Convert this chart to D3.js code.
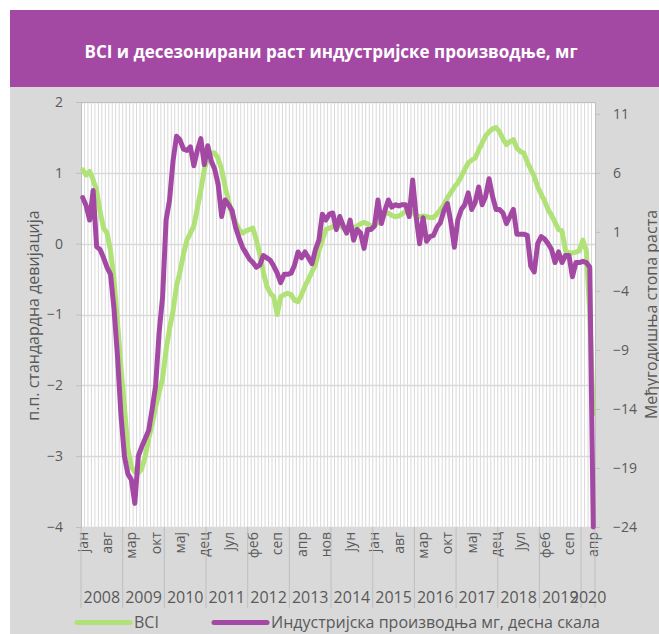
<!DOCTYPE html>
<html>
<head>
<meta charset="utf-8">
<script src="https://cdn.jsdelivr.net/npm/d3@7"></script>
<style>
	body { margin: 0; background: #fff; }
	svg text { font-family: "Open Sans", sans-serif; }
</style>
</head>
<body>
<div id="chart"></div>
<script>
// Data

var years = ['2008', '2009', '2010', '2011', '2012', '2013', '2014', '2015', '2016', '2017', '2018', '2019', '2020'];
var monthNames = ['јан', 'феб', 'мар', 'апр', 'мај', 'јун', 'јул', 'авг', 'сеп', 'окт', 'нов', 'дец'];
var leftTicks = [-4, -3, -2, -1, 0, 1, 2];
var rightTicks = [-24, -19, -14, -9, -4, 1, 6, 11];

// BCI, monthly from jan 2008 (left axis)
var bci = [
	1.04, 0.97, 1.02, 0.9, 0.75, 0.45, 0.22, 0.15, -0.1, -0.5, -1.1, -1.75,
	-2.3, -2.9, -3.15, -3.22, -3.24, -3.18, -3.0, -2.75, -2.55, -2.3, -2.1, -1.9,
	-1.5, -1.2, -0.95, -0.6, -0.4, -0.15, 0.05, 0.15, 0.25, 0.5, 0.75, 1.05,
	1.2, 1.28, 1.28, 1.2, 1.05, 0.8, 0.6, 0.4, 0.3, 0.2, 0.15, 0.18,
	0.2, 0.22, 0.05, -0.15, -0.4, -0.6, -0.7, -0.75, -1.0, -0.75, -0.72, -0.7,
	-0.72, -0.8, -0.82, -0.72, -0.6, -0.5, -0.4, -0.3, -0.1, 0.05, 0.2, 0.22,
	0.24, 0.25, 0.25, 0.22, 0.2, 0.2, 0.22, 0.25, 0.28, 0.3, 0.28, 0.25,
	0.25, 0.3, 0.38, 0.43, 0.43, 0.4, 0.38, 0.39, 0.42, 0.46, 0.48, 0.44,
	0.4, 0.38, 0.39, 0.38, 0.37, 0.37, 0.42, 0.48, 0.55, 0.65, 0.72, 0.8,
	0.86, 0.95, 1.05, 1.14, 1.18, 1.21, 1.32, 1.42, 1.52, 1.58, 1.62, 1.64,
	1.58, 1.48, 1.4, 1.44, 1.47, 1.35, 1.3, 1.28, 1.15, 1.05, 0.95, 0.8,
	0.7, 0.6, 0.48, 0.4, 0.3, 0.2, 0.18, -0.1, -0.13, -0.13, -0.12, -0.1,
	0.05, -0.1, -1.0, -2.4
];

// Industrial production yoy, monthly from jan 2008 (right axis)
var ip = [
	3.9, 3.2, 2.0, 4.5, -0.25, -0.5, -1.2, -2.0, -2.6, -5.5, -9.5, -14.5,
	-18.0, -19.5, -20.0, -22.0, -18.0, -17.2, -16.5, -15.8, -14.0, -12.0, -7.5, -4.5,
	2.0, 3.7, 7.0, 9.1, 8.8, 8.0, 7.9, 8.2, 6.6, 7.9, 8.9, 6.7,
	8.3, 7.0, 6.3, 5.0, 2.3, 3.7, 3.3, 2.8, 1.4, 0.5, -0.3, -0.8,
	-1.3, -1.6, -2.0, -1.8, -1.0, -1.2, -1.4, -1.9, -2.5, -3.3, -2.6, -2.6,
	-2.5, -1.8, -0.7, -1.2, -0.7, -1.2, -1.7, -0.5, 0.3, 2.5, 2.0, 2.5,
	2.6, 1.2, 2.3, 1.5, 0.9, 2.0, 0.3, 1.2, 0.9, -0.4, 1.2, 1.2,
	1.5, 3.7, 1.7, 2.8, 3.7, 3.1, 3.3, 3.2, 3.3, 3.3, 2.3, 5.4,
	2.3, 0.0, 2.2, 0.2, 0.6, 0.7, 1.4, 1.8, 2.8, 3.4, 1.8, -0.3,
	2.0, 2.9, 3.3, 4.3, 2.9, 3.5, 4.8, 3.3, 4.0, 5.5, 4.0, 2.9,
	2.9, 2.6, 1.7, 2.3, 2.9, 0.8, 0.8, 0.8, 0.7, -1.9, -2.4, 0.0,
	0.6, 0.4, 0.0, -0.5, -1.6, -0.7, -1.6, -1.0, -1.0, -2.8, -1.6, -1.6,
	-1.5, -1.6, -2.0, -24.0
];

var seriesNames = ['BCI', 'Индустријска производња мг, десна скала'];
var title = 'BCI и десезонирани раст индустријске производње, мг';

// Config

var width = 659, height = 634;
var plot = { left: 81, right: 595, top: 102, bottom: 527 };
var green = '#b0e277';
var purple = '#a349a4';
var textGray = '#595959';
var lineGray = '#bfbfbf';

// Setup

var svg = d3.select('#chart').append('svg')
	.attr('width', width)
	.attr('height', height);

svg.append('rect')
	.attr('x', 10).attr('y', 87)
	.attr('width', width - 10).attr('height', height - 87)
	.attr('fill', '#d9d9d9');

svg.append('rect')
	.attr('x', 10).attr('y', 10)
	.attr('width', width - 10).attr('height', 77)
	.attr('fill', purple);

svg.append('text')
	.attr('x', 331).attr('y', 58)
	.attr('text-anchor', 'middle')
	.attr('fill', '#fff')
	.style('font-size', '17px')
	.style('font-weight', 'bold')
	.text(title);

var months = d3.range(bci.length);

var x = d3.scaleBand()
	.domain(months)
	.range([plot.left, plot.right]);
var yL = d3.scaleLinear().domain([-4, 2]).range([plot.bottom, plot.top]);
var yR = d3.scaleLinear().domain([-24, 12]).range([plot.bottom, plot.top]);
var cx = i => x(i) + x.bandwidth() / 2;

svg.append('rect')
	.attr('x', plot.left).attr('y', plot.top)
	.attr('width', plot.right - plot.left).attr('height', plot.bottom - plot.top)
	.attr('fill', '#fff');

// month gridlines
svg.append('g').selectAll('line')
	.data(months.slice(1))
	.enter().append('line')
		.attr('x1', d => x(d)).attr('x2', d => x(d))
		.attr('y1', plot.top).attr('y2', plot.bottom)
		.attr('stroke', '#d9d9d9')
		.attr('stroke-width', 1);

// horizontal gridlines
svg.append('g').selectAll('line')
	.data(leftTicks)
	.enter().append('line')
		.attr('x1', plot.left).attr('x2', plot.right)
		.attr('y1', d => Math.round(yL(d)) + 0.5).attr('y2', d => Math.round(yL(d)) + 0.5)
		.attr('stroke', '#d9d9d9')
		.attr('stroke-width', 1.5);

// Axes

function styleAxis(g) {
	g.select('.domain').attr('stroke', lineGray);
	g.selectAll('.tick line').attr('stroke', lineGray);
	g.selectAll('.tick text')
		.attr('fill', textGray)
		.style('font-size', '14px')
		.style('font-family', '"Open Sans", sans-serif');
}

svg.append('g')
	.attr('transform', `translate(${plot.left},0)`)
	.call(d3.axisLeft(yL).tickValues(leftTicks).tickFormat(d3.format('d')).tickSize(5).tickPadding(13).tickSizeOuter(0))
	.call(styleAxis);

svg.append('g')
	.attr('transform', `translate(${plot.right},0)`)
	.call(d3.axisRight(yR).tickValues(rightTicks).tickFormat(d3.format('d')).tickSize(5).tickPadding(13).tickSizeOuter(0))
	.call(styleAxis);

svg.append('line')
	.attr('x1', plot.left).attr('x2', plot.right)
	.attr('y1', plot.top + 0.5).attr('y2', plot.top + 0.5)
	.attr('stroke', lineGray);

// axis titles
svg.append('text')
	.attr('transform', `translate(39,${(plot.top + plot.bottom) / 2 + 1}) rotate(-90)`)
	.attr('text-anchor', 'middle')
	.attr('fill', textGray)
	.style('font-size', '16px')
	.text('п.п. стандардна девијација');

svg.append('text')
	.attr('transform', `translate(657,${(plot.top + plot.bottom) / 2}) rotate(-90)`)
	.attr('text-anchor', 'middle')
	.attr('fill', textGray)
	.style('font-size', '16px')
	.text('Међугодишња стопа раста');

// Category axis: months every 7, years grouped

var labelled = months.filter(i => i % 7 === 0);
svg.append('g').selectAll('text')
	.data(labelled)
	.enter().append('text')
		.attr('transform', d => `translate(${cx(d) + 5},${plot.bottom + 5}) rotate(-90)`)
		.attr('text-anchor', 'end')
		.attr('fill', textGray)
		.style('font-size', '14px')
		.text(d => monthNames[d % 12]);

var yearStarts = years.map((y, k) => k * 12);
svg.append('g').selectAll('line')
	.data(yearStarts.concat([bci.length]))
	.enter().append('line')
		.attr('x1', d => d < bci.length ? x(d) : plot.right)
		.attr('x2', d => d < bci.length ? x(d) : plot.right)
		.attr('y1', plot.bottom).attr('y2', 608)
		.attr('stroke', lineGray);

svg.append('g').selectAll('text')
	.data(years)
	.enter().append('text')
		.attr('x', (y, k) => {
			let a = x(k * 12);
			let b = Math.min(k * 12 + 12, bci.length);
			let end = b < bci.length ? x(b) : plot.right;
			return (a + end) / 2;
		})
		.attr('y', 603)
		.attr('text-anchor', 'middle')
		.attr('fill', textGray)
		.style('font-size', '16px')
		.text(d => d);

// Lines

var lineL = d3.line().x((d, i) => cx(i)).y(d => yL(d));
var lineR = d3.line().x((d, i) => cx(i)).y(d => yR(d));

svg.append('path')
	.datum(bci)
	.attr('d', lineL)
	.attr('fill', 'none')
	.attr('stroke', green)
	.attr('stroke-width', 5)
	.attr('stroke-linejoin', 'round')
	.attr('stroke-linecap', 'round');

svg.append('path')
	.datum(ip)
	.attr('d', lineR)
	.attr('fill', 'none')
	.attr('stroke', purple)
	.attr('stroke-width', 5)
	.attr('stroke-linejoin', 'round')
	.attr('stroke-linecap', 'round');

// Legend

var legend = svg.append('g');
var legendItems = [
	{ name: seriesNames[0], color: green, x1: 77, x2: 130 },
	{ name: seriesNames[1], color: purple, x1: 214, x2: 267 }
];
legendItems.forEach(item => {
	legend.append('line')
		.attr('x1', item.x1).attr('x2', item.x2)
		.attr('y1', 622.5).attr('y2', 622.5)
		.attr('stroke', item.color)
		.attr('stroke-width', 5)
		.attr('stroke-linecap', 'round');
	legend.append('text')
		.attr('x', item.x2 + 4).attr('y', 628)
		.attr('fill', textGray)
		.style('font-size', '16px')
		.text(item.name);
});
</script>
</body>
</html>
